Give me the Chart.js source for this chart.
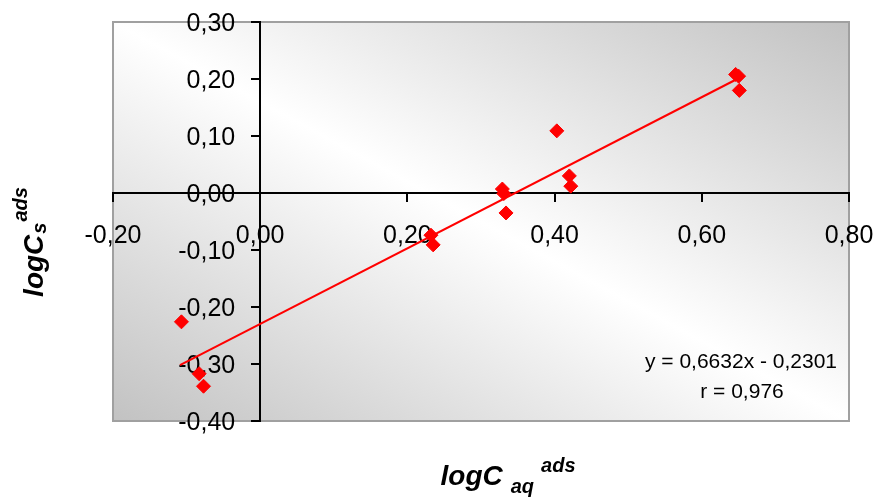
<!DOCTYPE html>
<html>
<head>
<meta charset="utf-8">
<script src="https://cdn.jsdelivr.net/npm/chart.js@4.4.0/dist/chart.umd.min.js"></script>
<style>
html, body { margin: 0; padding: 0; background: #fff; }
#wrap { width: 879px; height: 497px; }
</style>
</head>
<body>
<div id="wrap"><canvas id="chart" width="879" height="497"></canvas></div>
<script>
// measured points (logC aq ads, logC s ads)
const logCaq = [-0.107, -0.083, -0.077, 0.232, 0.235, 0.329, 0.331, 0.334, 0.403, 0.420, 0.422, 0.646, 0.650, 0.651];
const logCs  = [-0.226, -0.317, -0.339, -0.074, -0.091, 0.007, -0.001, -0.035, 0.109, 0.030, 0.012, 0.208, 0.205, 0.180];

// trendline end points
const trendX = [-0.109, 0.648];
const trendY = [-0.302, 0.200];

const xTicks = [-0.2, 0, 0.2, 0.4, 0.6, 0.8];
const yTicks = [-0.4, -0.3, -0.2, -0.1, 0, 0.1, 0.2, 0.3];

const eqLines = ['y = 0,6632x - 0,2301', 'r = 0,976'];

const FONT = "'Liberation Sans', Arial, sans-serif";
const fmt = v => v.toFixed(2).replace('.', ',');

// gradient + frame behind the plot
const plotBg = {
    id: 'plotBg',
    beforeDraw(chart) {
        const {ctx, chartArea: a} = chart;
        const cx = (a.left + a.right) / 2, cy = (a.top + a.bottom) / 2;
        const w = a.right - a.left, h = a.bottom - a.top;
        const nx = h, ny = -w;
        const t = ((a.left - cx) * nx + (a.bottom - cy) * ny) / (nx * nx + ny * ny);
        const g = ctx.createLinearGradient(cx + t * nx, cy + t * ny, cx - t * nx, cy - t * ny);
        g.addColorStop(0, '#c2c2c2');
        g.addColorStop(0.5, '#ffffff');
        g.addColorStop(1, '#c2c2c2');
        ctx.save();
        ctx.fillStyle = g;
        ctx.fillRect(a.left, a.top, w, h);
        ctx.strokeStyle = '#a0a0a0';
        ctx.lineWidth = 2;
        ctx.strokeRect(a.left, a.top, w, h);
        ctx.restore();
    }
};

// y tick labels, placed left of the centred axis (chart.js puts them on the line)
const yLabels = {
    id: 'yLabels',
    beforeDatasetsDraw(chart) {
        const {ctx, scales: {x, y}} = chart;
        const ax = x.getPixelForValue(0);
        ctx.save();
        ctx.font = '25px ' + FONT;
        ctx.fillStyle = '#000';
        ctx.textAlign = 'right';
        ctx.textBaseline = 'middle';
        y.ticks.forEach(t => {
            ctx.fillText(fmt(t.value), ax - 25, y.getPixelForValue(t.value) + 2);
        });
        ctx.restore();
    }
};

// draws "main sub sup" pieces in a row
function drawPieces(ctx, pieces) {
    let total = 0;
    pieces.forEach(p => {
        ctx.font = 'italic bold ' + p.size + 'px ' + FONT;
        p.w = ctx.measureText(p.text).width;
        total += p.w + (p.gap || 0);
    });
    let x = -total / 2;
    pieces.forEach(p => {
        x += p.gap || 0;
        ctx.font = 'italic bold ' + p.size + 'px ' + FONT;
        ctx.fillText(p.text, x, p.dy);
        x += p.w;
    });
}

const titles = {
    id: 'titles',
    afterDraw(chart) {
        const ctx = chart.ctx;
        ctx.save();
        ctx.fillStyle = '#000';
        ctx.textBaseline = 'alphabetic';
        ctx.textAlign = 'left';

        // x title
        ctx.save();
        ctx.translate(508, 485);
        drawPieces(ctx, [
            {text: 'logC', size: 28, dy: 0},
            {text: 'aq', size: 20, dy: 8, gap: 8},
            {text: 'ads', size: 20, dy: -13, gap: 7}
        ]);
        ctx.restore();

        // y title
        ctx.save();
        ctx.translate(43, 242);
        ctx.rotate(-Math.PI / 2);
        drawPieces(ctx, [
            {text: 'logC', size: 28, dy: 0},
            {text: 's', size: 20, dy: 3, gap: 1},
            {text: 'ads', size: 20, dy: -16, gap: 1}
        ]);
        ctx.restore();

        // regression text
        ctx.font = '21px ' + FONT;
        ctx.textAlign = 'center';
        ctx.fillText(eqLines[0], 741, 368);
        ctx.fillText(eqLines[1], 742, 398);
        ctx.restore();
    }
};

const noPad = s => { s.paddingTop = 0; s.paddingBottom = 0; s.paddingLeft = 0; s.paddingRight = 0; };

const ctx = document.getElementById('chart').getContext('2d');
new Chart(ctx, {
    type: 'scatter',
    data: {
        datasets: [{
            label: 'data',
            data: logCaq.map((x, i) => ({x: x, y: logCs[i]})),
            pointStyle: 'rectRot',
            pointRadius: 7,
            pointBackgroundColor: '#ff0000',
            pointBorderColor: '#ff0000',
            pointBorderWidth: 1,
            order: 1
        }, {
            label: 'trend',
            data: trendX.map((x, i) => ({x: x, y: trendY[i]})),
            showLine: true,
            borderColor: '#ff0000',
            borderWidth: 2,
            pointRadius: 0,
            order: 2
        }]
    },
    options: {
        responsive: false,
        animation: false,
        layout: {
            padding: {left: 113, top: 22, right: 30, bottom: 76}
        },
        plugins: {
            legend: {display: false},
            tooltip: {enabled: false}
        },
        scales: {
            x: {
                type: 'linear',
                position: {y: 0},
                min: -0.2,
                max: 0.8,
                afterBuildTicks: s => { s.ticks = xTicks.map(v => ({value: v})); },
                afterFit: noPad,
                ticks: {
                    callback: v => fmt(v),
                    font: {family: FONT, size: 25},
                    color: '#000',
                    padding: 20,
                    maxRotation: 0,
                    autoSkip: false
                },
                grid: {drawOnChartArea: false, drawTicks: true, tickLength: 8, color: '#000', lineWidth: 2},
                border: {display: true, color: '#000', width: 2}
            },
            y: {
                type: 'linear',
                position: {x: 0},
                min: -0.4,
                max: 0.3,
                afterBuildTicks: s => { s.ticks = yTicks.map(v => ({value: v})); },
                afterFit: noPad,
                ticks: {
                    display: false
                },
                grid: {drawOnChartArea: false, drawTicks: true, tickLength: 8, color: '#000', lineWidth: 2},
                border: {display: true, color: '#000', width: 2}
            }
        }
    },
    plugins: [plotBg, yLabels, titles]
});
</script>
</body>
</html>
